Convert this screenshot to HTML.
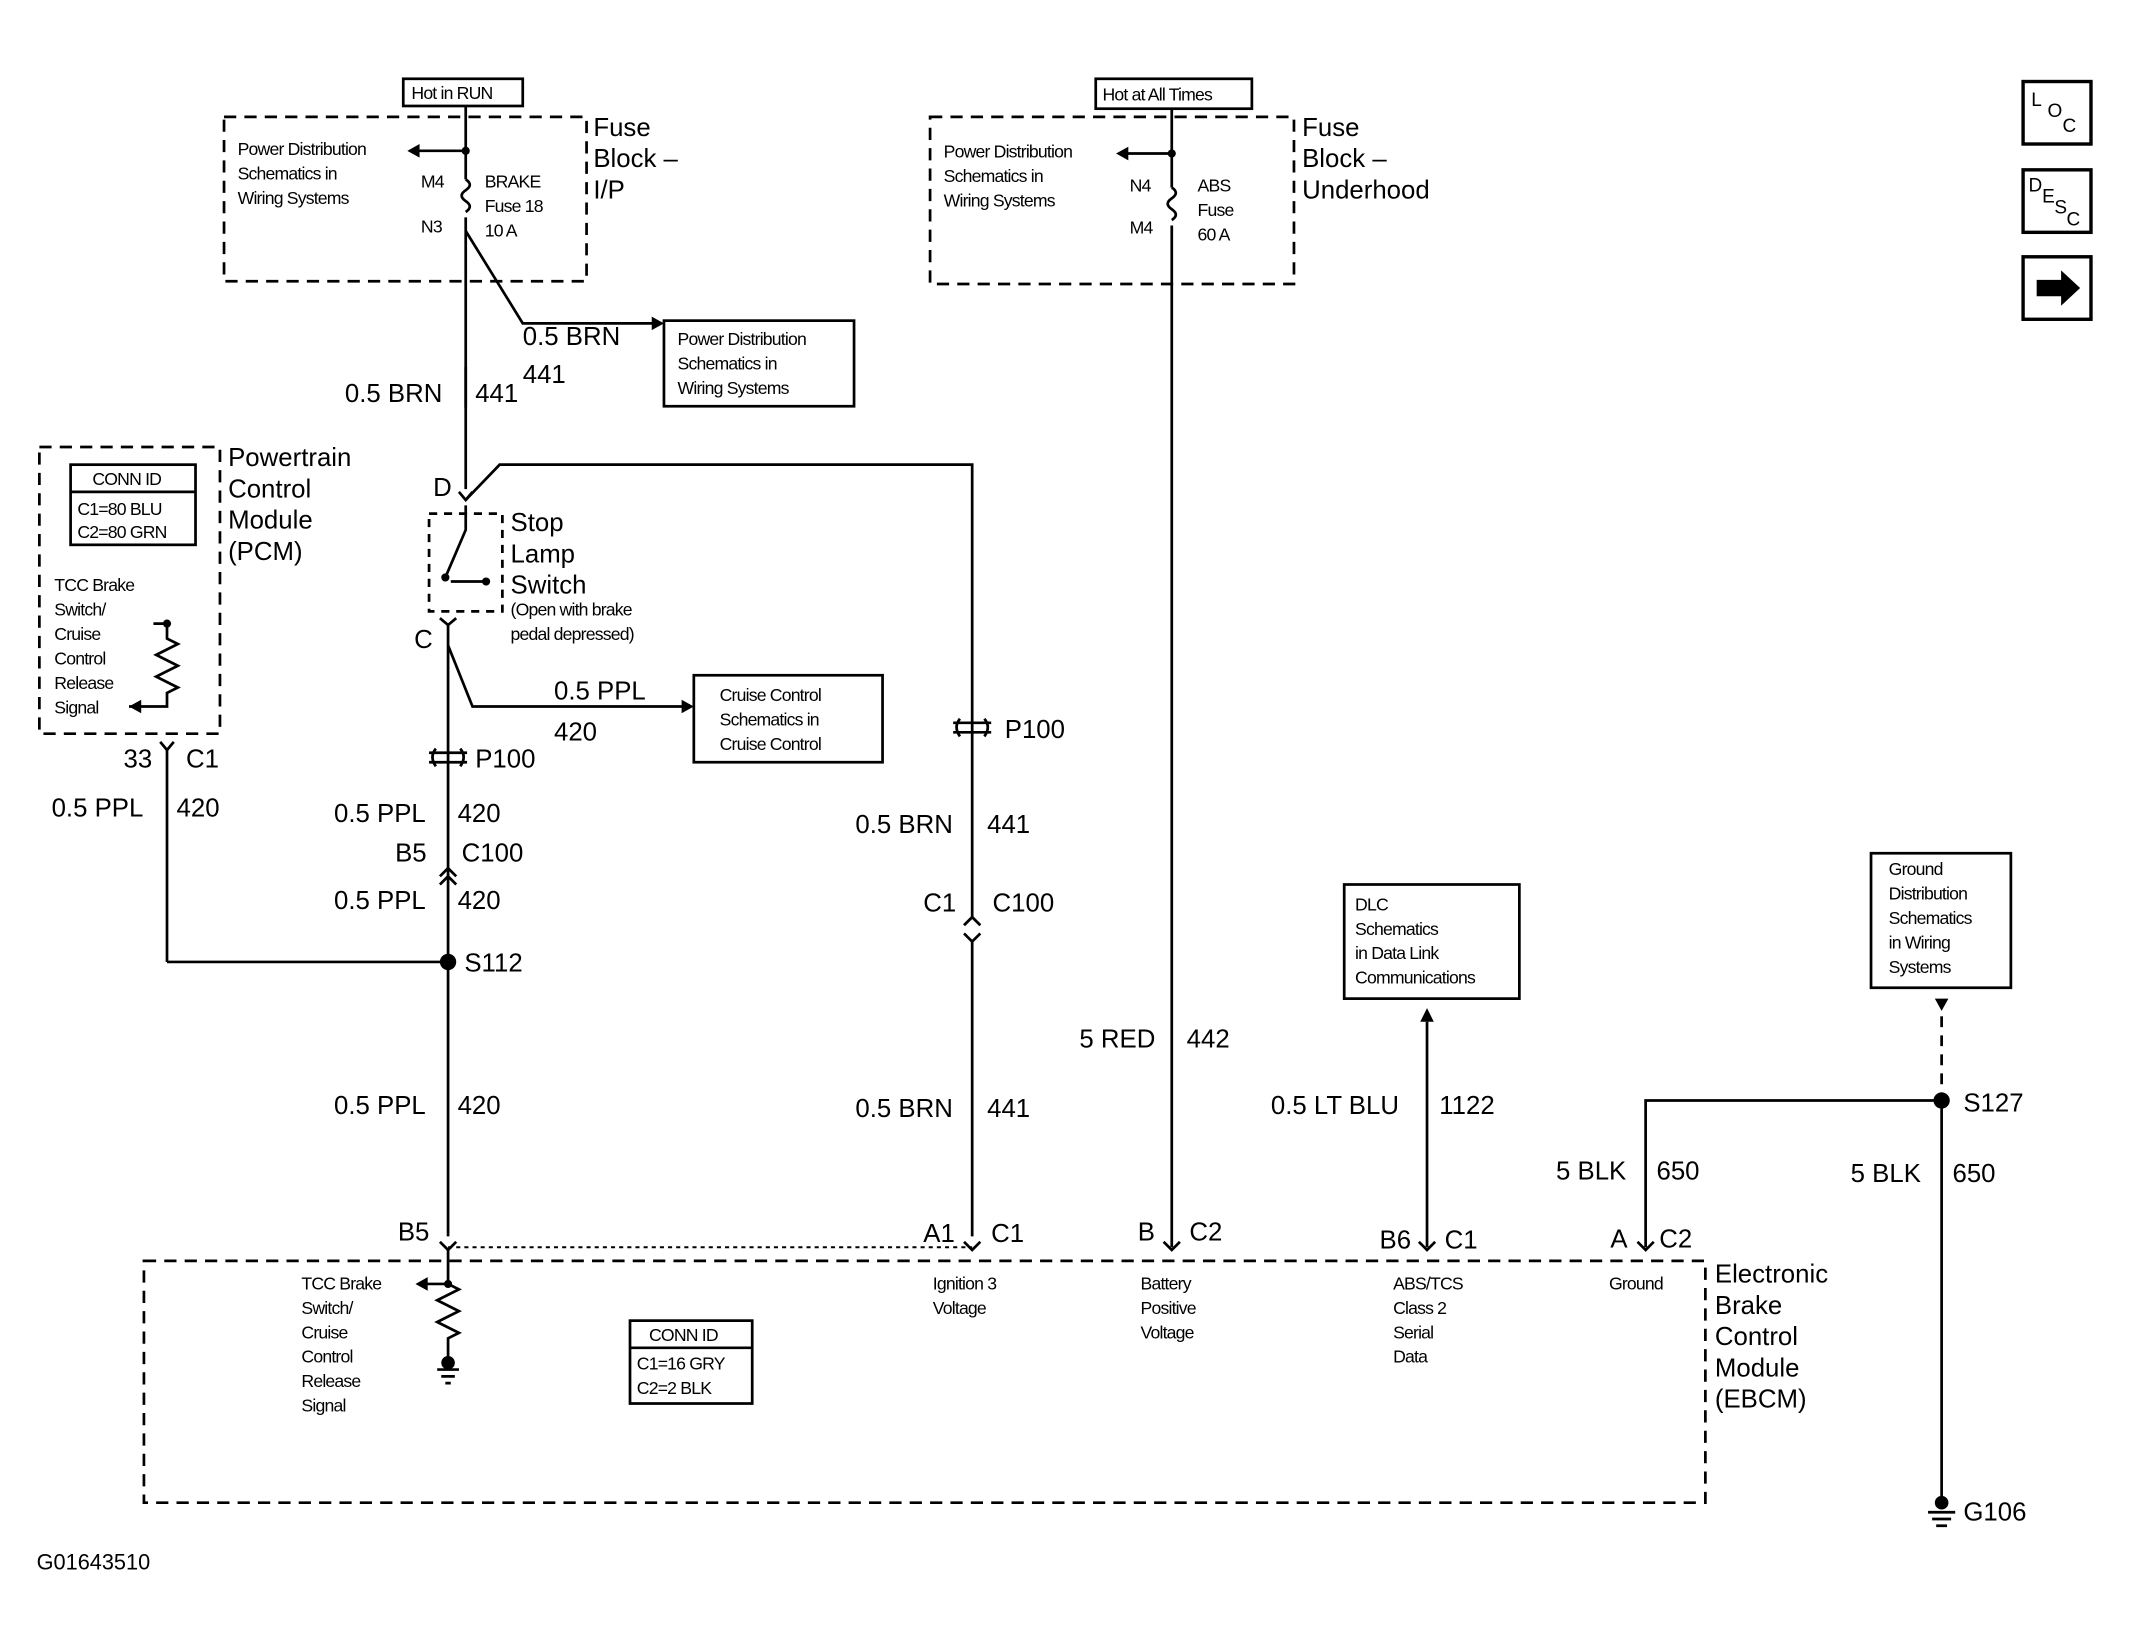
<!DOCTYPE html>
<html><head><style>html,body{margin:0;padding:0;background:#fff}svg{display:block}
text{font-family:"Liberation Sans",Arial,sans-serif;fill:#000}
.b{font-size:19px}.s{font-size:13px;letter-spacing:-0.6px}
</style></head><body>
<svg width="2129" height="1644" viewBox="0 0 1568 1210" preserveAspectRatio="none" xmlns="http://www.w3.org/2000/svg">
<g fill="none" stroke="#000" stroke-width="2">
<rect x="297" y="58" width="88" height="20"/>
<rect x="165" y="86" width="267" height="121" stroke-dasharray="9,6"/>
<path d="M343 78V132M343 160V360"/>
<path d="M343 132q6 4 0 8q-6 4 0 8q6 4 0 8"/>
<path d="M343 111H306"/>
<path d="M343 170L385 238H483"/>
<rect x="489" y="236" width="140" height="63"/>
<path d="M343 270V300"/>
<path d="M338 362l5 6l5 -6"/>
<path d="M343 368L368 342H716V910"/>
<rect x="316" y="378" width="54" height="72" stroke-dasharray="6,5"/>
<path d="M343 372V390L328 425M332 428H358" />
<path d="M324 455l6 5l6 -5M330 460V910"/>
<path d="M330 475L348 520H505"/>
<rect x="511" y="497" width="139" height="64"/>
<path d="M316 554h28M316 561h28M321 551q-5 6 0 13M339 551q5 6 0 13"/>
<path d="M702 532h28M702 539h28M707 529q-5 6 0 13M725 529q5 6 0 13"/>
<path d="M324 645l6 -6l6 6M324 651l6 -6l6 6"/>
<path d="M710 680l6 -6l6 6M710 690l6 6l6 -6" stroke="#fff" stroke-width="0"/>
<path d="M716 676V692" stroke="#fff" stroke-width="4"/>
<path d="M710 681l6 -6l6 6M710 687l6 6l6 -6"/>
<path d="M123 708H330M123 708V552"/>
<path d="M118 546l5 6l5 -6"/>
<rect x="29" y="329" width="133" height="211" stroke-dasharray="9,6"/>
<rect x="52" y="342" width="92" height="59"/>
<path d="M52 362H144"/>
<path d="M113 459H123V470l8 4l-16 8l16 8l-16 8l16 8l-8 4V520H95"/>
<path d="M330 918H716" stroke-dasharray="3,3" stroke-width="1.5"/>
<path d="M324 914l6 6l6 -6M710 914l6 6l6 -6M857 914l6 6l6 -6M1045 914l6 6l6 -6M1206 914l6 6l6 -6"/>
<rect x="106" y="928" width="1150" height="178" stroke-dasharray="9,6"/>
<path d="M330 920V945l8 4l-16 8l16 8l-16 8l16 8l-8 4V1003M330 945H312"/>
<rect x="464" y="972" width="90" height="61"/>
<path d="M464 992H554"/>
<rect x="807" y="58" width="115" height="22"/>
<rect x="685" y="86" width="268" height="123" stroke-dasharray="9,6"/>
<path d="M863 80V138M863 166V918"/>
<path d="M863 138q6 4 0 8q-6 4 0 8q6 4 0 8"/>
<path d="M863 113H828"/>
<path d="M1051 918V752"/>
<rect x="990" y="651" width="129" height="84"/>
<rect x="1378" y="628" width="103" height="99"/>
<path d="M1430 748V810" stroke-dasharray="8,6"/>
<path d="M1212 918V810H1430V1105"/>
<path d="M1420 1113h20M1423 1118h14M1426 1123h8"/>
<path d="M322 1008h16M325 1013h10M328 1018h4"/>
<rect x="1490" y="60" width="50" height="46" stroke-width="2.5"/>
<rect x="1490" y="125" width="50" height="46" stroke-width="2.5"/>
<rect x="1490" y="189" width="50" height="46" stroke-width="2.5"/>
</g>
<g fill="#000">
<circle cx="343" cy="111" r="3"/><circle cx="863" cy="113" r="3"/>
<circle cx="330" cy="708" r="6"/><circle cx="1430" cy="810" r="6"/>
<circle cx="123" cy="459" r="3"/><circle cx="330" cy="945" r="3"/>
<circle cx="358" cy="428" r="3"/><circle cx="328" cy="425" r="3"/>
<circle cx="330" cy="1003" r="5"/><circle cx="1430" cy="1106" r="5"/>
<path d="M300 111l9 -5v10zM822 113l9 -5v10zM489 238l-9 -5v10zM511 520l-9 -5v10zM1051 742l-5 10h10zM1430 744l-5 -9h10zM95 520l9 -5v10zM306 945l9 -5v10z"/>
<path d="M1500 206h18v-7l14 13l-14 13v-7h-18z"/>
</g>
<text class="s" x="303" y="73">Hot in RUN</text>
<text class="s" x="812" y="74">Hot at All Times</text>
<text class="b"><tspan x="437" y="100">Fuse</tspan><tspan x="437" y="123">Block –</tspan><tspan x="437" y="146">I/P</tspan></text>
<text class="b"><tspan x="959" y="100">Fuse</tspan><tspan x="959" y="123">Block –</tspan><tspan x="959" y="146">Underhood</tspan></text>
<text class="s"><tspan x="175" y="114">Power Distribution</tspan><tspan x="175" y="132">Schematics in</tspan><tspan x="175" y="150">Wiring Systems</tspan></text>
<text class="s"><tspan x="695" y="116">Power Distribution</tspan><tspan x="695" y="134">Schematics in</tspan><tspan x="695" y="152">Wiring Systems</tspan></text>
<text class="s"><tspan x="310" y="138">M4</tspan><tspan x="310" y="171">N3</tspan><tspan x="832" y="141">N4</tspan><tspan x="832" y="172">M4</tspan></text>
<text class="s"><tspan x="357" y="138">BRAKE</tspan><tspan x="357" y="156">Fuse 18</tspan><tspan x="357" y="174">10 A</tspan></text>
<text class="s"><tspan x="882" y="141">ABS</tspan><tspan x="882" y="159">Fuse</tspan><tspan x="882" y="177">60 A</tspan></text>
<text class="b" x="385" y="254">0.5 BRN</text><text class="b" x="385" y="282">441</text>
<text class="s"><tspan x="499" y="254">Power Distribution</tspan><tspan x="499" y="272">Schematics in</tspan><tspan x="499" y="290">Wiring Systems</tspan></text>
<text class="b" x="254" y="296">0.5 BRN</text><text class="b" x="350" y="296">441</text>
<text class="b" x="319" y="365">D</text><text class="b" x="305" y="477">C</text>
<text class="b"><tspan x="376" y="391">Stop</tspan><tspan x="376" y="414">Lamp</tspan><tspan x="376" y="437">Switch</tspan></text>
<text class="s"><tspan x="376" y="453">(Open with brake</tspan><tspan x="376" y="471">pedal depressed)</tspan></text>
<text class="b" x="408" y="515">0.5 PPL</text><text class="b" x="408" y="545">420</text>
<text class="s"><tspan x="530" y="516">Cruise Control</tspan><tspan x="530" y="534">Schematics in</tspan><tspan x="530" y="552">Cruise Control</tspan></text>
<text class="b"><tspan x="168" y="343">Powertrain</tspan><tspan x="168" y="366">Control</tspan><tspan x="168" y="389">Module</tspan><tspan x="168" y="412">(PCM)</tspan></text>
<text class="s"><tspan x="68" y="357">CONN ID</tspan><tspan x="57" y="379">C1=80 BLU</tspan><tspan x="57" y="396">C2=80 GRN</tspan></text>
<text class="s"><tspan x="40" y="435">TCC Brake</tspan><tspan x="40" y="453">Switch/</tspan><tspan x="40" y="471">Cruise</tspan><tspan x="40" y="489">Control</tspan><tspan x="40" y="507">Release</tspan><tspan x="40" y="525">Signal</tspan></text>
<text class="b" x="91" y="565">33</text><text class="b" x="137" y="565">C1</text>
<text class="b" x="38" y="601">0.5 PPL</text><text class="b" x="130" y="601">420</text>
<text class="b" x="350" y="565">P100</text><text class="b" x="740" y="543">P100</text>
<text class="b" x="246" y="605">0.5 PPL</text><text class="b" x="337" y="605">420</text>
<text class="b" x="291" y="634">B5</text><text class="b" x="340" y="634">C100</text>
<text class="b" x="246" y="669">0.5 PPL</text><text class="b" x="337" y="669">420</text>
<text class="b" x="342" y="715">S112</text>
<text class="b" x="246" y="820">0.5 PPL</text><text class="b" x="337" y="820">420</text>
<text class="b" x="293" y="913">B5</text>
<text class="b" x="630" y="613">0.5 BRN</text><text class="b" x="727" y="613">441</text>
<text class="b" x="680" y="671">C1</text><text class="b" x="731" y="671">C100</text>
<text class="b" x="630" y="822">0.5 BRN</text><text class="b" x="727" y="822">441</text>
<text class="b" x="680" y="914">A1</text><text class="b" x="730" y="914">C1</text>
<text class="b" x="795" y="771">5 RED</text><text class="b" x="874" y="771">442</text>
<text class="b" x="838" y="913">B</text><text class="b" x="876" y="913">C2</text>
<text class="s"><tspan x="998" y="670">DLC</tspan><tspan x="998" y="688">Schematics</tspan><tspan x="998" y="706">in Data Link</tspan><tspan x="998" y="724">Communications</tspan></text>
<text class="b" x="936" y="820">0.5 LT BLU</text><text class="b" x="1060" y="820">1122</text>
<text class="b" x="1016" y="919">B6</text><text class="b" x="1064" y="919">C1</text>
<text class="s"><tspan x="1391" y="644">Ground</tspan><tspan x="1391" y="662">Distribution</tspan><tspan x="1391" y="680">Schematics</tspan><tspan x="1391" y="698">in Wiring</tspan><tspan x="1391" y="716">Systems</tspan></text>
<text class="b" x="1446" y="818">S127</text>
<text class="b" x="1146" y="868">5 BLK</text><text class="b" x="1220" y="868">650</text>
<text class="b" x="1363" y="870">5 BLK</text><text class="b" x="1438" y="870">650</text>
<text class="b" x="1186" y="918">A</text><text class="b" x="1222" y="918">C2</text>
<text class="b" x="1446" y="1119">G106</text>
<text class="b"><tspan x="1263" y="944">Electronic</tspan><tspan x="1263" y="967">Brake</tspan><tspan x="1263" y="990">Control</tspan><tspan x="1263" y="1013">Module</tspan><tspan x="1263" y="1036">(EBCM)</tspan></text>
<text class="s"><tspan x="222" y="949">TCC Brake</tspan><tspan x="222" y="967">Switch/</tspan><tspan x="222" y="985">Cruise</tspan><tspan x="222" y="1003">Control</tspan><tspan x="222" y="1021">Release</tspan><tspan x="222" y="1039">Signal</tspan></text>
<text class="s"><tspan x="478" y="987">CONN ID</tspan><tspan x="469" y="1008">C1=16 GRY</tspan><tspan x="469" y="1026">C2=2 BLK</tspan></text>
<text class="s"><tspan x="687" y="949">Ignition 3</tspan><tspan x="687" y="967">Voltage</tspan></text>
<text class="s"><tspan x="840" y="949">Battery</tspan><tspan x="840" y="967">Positive</tspan><tspan x="840" y="985">Voltage</tspan></text>
<text class="s"><tspan x="1026" y="949">ABS/TCS</tspan><tspan x="1026" y="967">Class 2</tspan><tspan x="1026" y="985">Serial</tspan><tspan x="1026" y="1003">Data</tspan></text>
<text class="s" x="1185" y="949">Ground</text>
<text x="27" y="1155" style="font-size:16px">G01643510</text>
<text x="1496" y="78" style="font-size:14px">L</text><text x="1508" y="86" style="font-size:14px">O</text><text x="1519" y="97" style="font-size:14px">C</text>
<text x="1494" y="141" style="font-size:14px">D</text><text x="1504" y="149" style="font-size:14px">E</text><text x="1513" y="157" style="font-size:14px">S</text><text x="1522" y="166" style="font-size:14px">C</text>
</svg>
</body></html>
